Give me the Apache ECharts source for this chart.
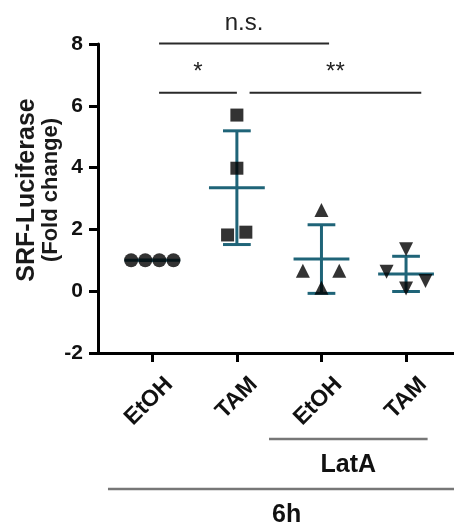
<!DOCTYPE html>
<html>
<head>
<meta charset="utf-8">
<script src="https://cdn.jsdelivr.net/npm/echarts@6/dist/echarts.min.js"></script>
<style>html,body{margin:0;padding:0;background:#fff}#c{width:454px;height:524px}</style>
</head>
<body>
<div id="c"></div>
<script>
// ---- data ----
const categories = ['EtOH', 'TAM', 'EtOH', 'TAM'];
const groupPos = [1, 2, 3, 4];
const yTicks = [-2, 0, 2, 4, 6, 8];

const etohVals = [1.0, 1.0, 1.0, 1.0];
const etohJitter = [-0.25, -0.083, 0.083, 0.25];
const tamVals = [5.70, 3.98, 1.82, 1.91];
const tamJitter = [0, 0, -0.11, 0.106];
const lataEtohVals = [2.63, 0.66, 0.66, 0.11];
const lataEtohJitter = [0, -0.22, 0.21, 0];
const lataTamVals = [1.36, 0.63, 0.33, 0.09];
const lataTamJitter = [0, -0.23, 0.23, 0];

const meanVals = [1.0, 3.35, 1.04, 0.56];
const sdVals = [0, 1.84, 1.11, 0.57];

const bracketText = ['n.s.', '*', '**'];
const bracketStart = [1.08, 1.08, 2.15];
const bracketEnd = [3.09, 2.0, 4.18];
const bracketLevel = [8.02, 6.42, 6.42];

const groupText = ['LatA', '6h'];
const groupStart = [2.38, 0.476];
const groupEnd = [4.255, 4.7];

// ---- chart ----
const FONT = '"Liberation Sans", Arial, Helvetica, sans-serif';
const TEAL = '#1f6478';

function pts(vals, jit, g) {
  return vals.map((v, i) => [groupPos[g] + jit[i], v]);
}

const chart = echarts.init(document.getElementById('c'), null, {renderer: 'canvas'});

const option = {
  animation: false,
  backgroundColor: '#fff',
  grid: {left: 98, right: 0, top: 44, bottom: 171, outerBoundsMode: 'none', containLabel: false},
  xAxis: {
    type: 'value',
    min: 0.358,
    max: 4.567,
    splitLine: {show: false},
    axisLine: {show: true, onZero: false, lineStyle: {color: '#000', width: 3}},
    axisTick: {show: true, length: 9, customValues: groupPos, lineStyle: {color: '#000', width: 3}},
    axisLabel: {
      customValues: groupPos,
      formatter: v => categories[Math.round(v) - 1],
      rotate: 45,
      margin: 11,
      align: 'right',
      verticalAlign: 'top',
      lineHeight: 48,
      fontFamily: FONT, fontWeight: 'bold', fontSize: 23, color: '#111'
    }
  },
  yAxis: {
    type: 'value',
    min: -2, max: 8, interval: 2,
    splitLine: {show: false},
    axisLine: {show: true, lineStyle: {color: '#000', width: 3}},
    axisTick: {show: true, length: 9, lineStyle: {color: '#000', width: 3}},
    axisLabel: {
      margin: 15,
      fontFamily: FONT, fontWeight: 'bold', fontSize: 21, color: '#111',
      customValues: yTicks
    },
    name: '{a|SRF-Luciferase}\n{b|(Fold change)}',
    nameLocation: 'middle',
    nameRotate: 90,
    nameGap: 35,
    nameMoveOverlap: false,
    nameTextStyle: {
      padding: [0, 0, 0, 17],
      rich: {
        a: {fontFamily: FONT, fontWeight: 'bold', fontSize: 25, lineHeight: 24, color: '#1a1a1a'},
        b: {fontFamily: FONT, fontWeight: 'bold', fontSize: 22, lineHeight: 24, color: '#1a1a1a'}
      }
    }
  },
  series: [
    {
      type: 'custom',
      name: 'mean ± SD',
      z: 1,
      clip: false,
      data: meanVals.map((m, i) => [groupPos[i], m, sdVals[i]]),
      renderItem(params, api) {
        const x = api.value(0), m = api.value(1), s = api.value(2);
        const top = api.coord([x, m + s]);
        const bot = api.coord([x, m - s]);
        const mid = api.coord([x, m]);
        const capL = api.coord([x - 0.164, 0])[0], capR = api.coord([x + 0.164, 0])[0];
        const mL = api.coord([x - 0.33, 0])[0], mR = api.coord([x + 0.33, 0])[0];
        const st = {stroke: TEAL, lineWidth: 3};
        return {
          type: 'group',
          children: [
            {type: 'line', shape: {x1: mid[0], y1: top[1], x2: mid[0], y2: bot[1]}, style: st},
            {type: 'line', shape: {x1: capL, y1: top[1], x2: capR, y2: top[1]}, style: st},
            {type: 'line', shape: {x1: capL, y1: bot[1], x2: capR, y2: bot[1]}, style: st},
            {type: 'line', shape: {x1: mL, y1: mid[1], x2: mR, y2: mid[1]}, style: st}
          ]
        };
      }
    },
    {type: 'scatter', name: 'EtOH', z: 3, symbol: 'circle', symbolSize: 14, itemStyle: {color: '#000'}, data: pts(etohVals, etohJitter, 0)},
    {type: 'scatter', name: 'TAM', z: 3, symbol: 'rect', symbolSize: 13, itemStyle: {color: '#000'}, data: pts(tamVals, tamJitter, 1)},
    {type: 'scatter', name: 'LatA EtOH', z: 3, symbol: 'triangle', symbolSize: 14, itemStyle: {color: '#000'}, data: pts(lataEtohVals, lataEtohJitter, 2)},
    {type: 'scatter', name: 'LatA TAM', z: 3, symbol: 'triangle', symbolRotate: 180, symbolSize: 14, itemStyle: {color: '#000'}, data: pts(lataTamVals, lataTamJitter, 3)},
    {
      type: 'custom',
      name: 'significance',
      clip: false,
      z: 2,
      data: bracketText.map((t, i) => [bracketStart[i], bracketLevel[i]]),
      renderItem(params, api) {
        const i = params.dataIndex;
        const a = api.coord([bracketStart[i], bracketLevel[i]]);
        const b = api.coord([bracketEnd[i], bracketLevel[i]]);
        const cx = api.coord([(bracketStart[i] + bracketEnd[i]) / 2, 0])[0];
        return {
          type: 'group',
          children: [
            {type: 'line', shape: {x1: a[0], y1: a[1], x2: b[0], y2: b[1]}, style: {stroke: '#2a2a2a', lineWidth: 2}},
            {type: 'text', style: {text: bracketText[i], x: cx, y: a[1] - 20, align: 'center', verticalAlign: 'middle',
              fontFamily: FONT, fontSize: 24, fill: '#222'}}
          ]
        };
      }
    },
    {
      type: 'custom',
      name: 'groups',
      clip: false,
      z: 2,
      data: groupText.map((t, i) => [groupStart[i], -2]),
      renderItem(params, api) {
        const i = params.dataIndex;
        const base = api.coord([groupStart[i], -2])[1];
        const yLine = base + (i === 0 ? 86 : 136);
        const x1 = api.coord([groupStart[i], -2])[0];
        const x2 = api.coord([groupEnd[i], -2])[0];
        return {
          type: 'group',
          children: [
            {type: 'line', shape: {x1: x1, y1: yLine, x2: x2, y2: yLine}, style: {stroke: '#777', lineWidth: 2.5}},
            {type: 'text', style: {text: groupText[i], x: (x1 + x2) / 2, y: yLine + 26, align: 'center', verticalAlign: 'middle',
              fontFamily: FONT, fontWeight: 'bold', fontSize: 25, fill: '#111'}}
          ]
        };
      }
    }
  ]
};
chart.setOption(option);
</script>
</body>
</html>
